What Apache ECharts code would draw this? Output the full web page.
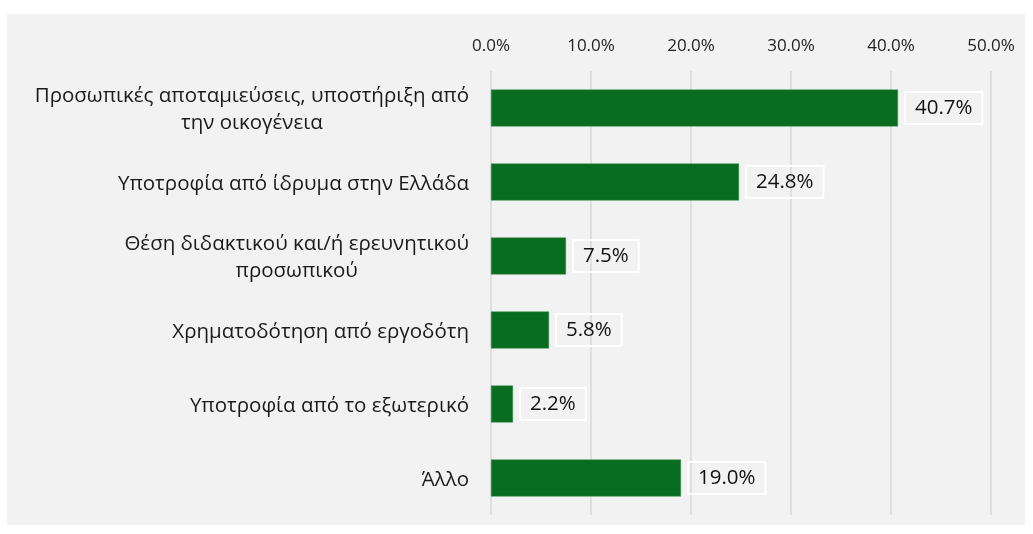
<!DOCTYPE html>
<html>
<head>
<meta charset="utf-8">
<script src="https://cdn.jsdelivr.net/npm/echarts@6/dist/echarts.min.js"></script>
<style>
  html, body { margin: 0; padding: 0; background: #fff; }
  #main { width: 1033px; height: 534px; }
</style>
</head>
<body>
<div id="main"></div>
<script>
// categories and values (percent)
var categories = [
  'Προσωπικές αποταμιεύσεις, υποστήριξη από\nτην οικογένεια',
  'Υποτροφία από ίδρυμα στην Ελλάδα',
  'Θέση διδακτικού και/ή ερευνητικού\nπροσωπικού',
  'Χρηματοδότηση από εργοδότη',
  'Υποτροφία από το εξωτερικό',
  'Άλλο'
];
var values = [40.7, 24.8, 7.5, 5.8, 2.2, 19.0];
var tickMin = 0, tickMax = 50, tickStep = 10;

var font = 'Open Sans, Noto Sans, sans-serif';
var chart = echarts.init(document.getElementById('main'));

var option = {
  backgroundColor: '#fff',
  animation: false,
  graphic: [{
    type: 'rect',
    z: -10,
    shape: { x: 7, y: 14, width: 1018, height: 511 },
    style: { fill: '#f2f2f2' }
  }],
  grid: { left: 491, right: 42, top: 71, bottom: 19 },
  xAxis: {
    type: 'value',
    position: 'top',
    min: tickMin,
    max: tickMax,
    interval: tickStep,
    axisLine: { show: false },
    axisTick: { show: false },
    splitLine: { lineStyle: { color: '#d9d9d9', width: 1.5 } },
    axisLabel: {
      margin: 16,
      color: '#222',
      fontFamily: font,
      fontSize: 17,
      formatter: function (v) { return v.toFixed(1) + '%'; }
    }
  },
  yAxis: {
    type: 'category',
    inverse: true,
    data: categories,
    axisLine: { show: false },
    axisTick: { show: false },
    axisLabel: {
      margin: 22,
      align: 'right',
      padding: [4, 0, 0, 0],
      formatter: function (v) {
        return v.split('\n').map(function (s) { return '{c|' + s + '}'; }).join('\n');
      },
      rich: {
        c: {
          align: 'center',
          color: '#1a1a1a',
          fontFamily: font,
          fontSize: 20.5,
          lineHeight: 27
        }
      }
    }
  },
  series: [{
    type: 'bar',
    data: values,
    barWidth: '50%',
    itemStyle: { color: '#086c21', borderColor: '#3f8f52', borderWidth: 0.5 },
    label: {
      show: true,
      position: 'right',
      distance: 7,
      color: '#111',
      fontFamily: font,
      fontSize: 20.5,
      borderColor: '#fff',
      borderWidth: 2,
      padding: [6, 10, 5, 10],
      formatter: function (p) { return p.value.toFixed(1) + '%'; }
    }
  }]
};
chart.setOption(option);
</script>
</body>
</html>
